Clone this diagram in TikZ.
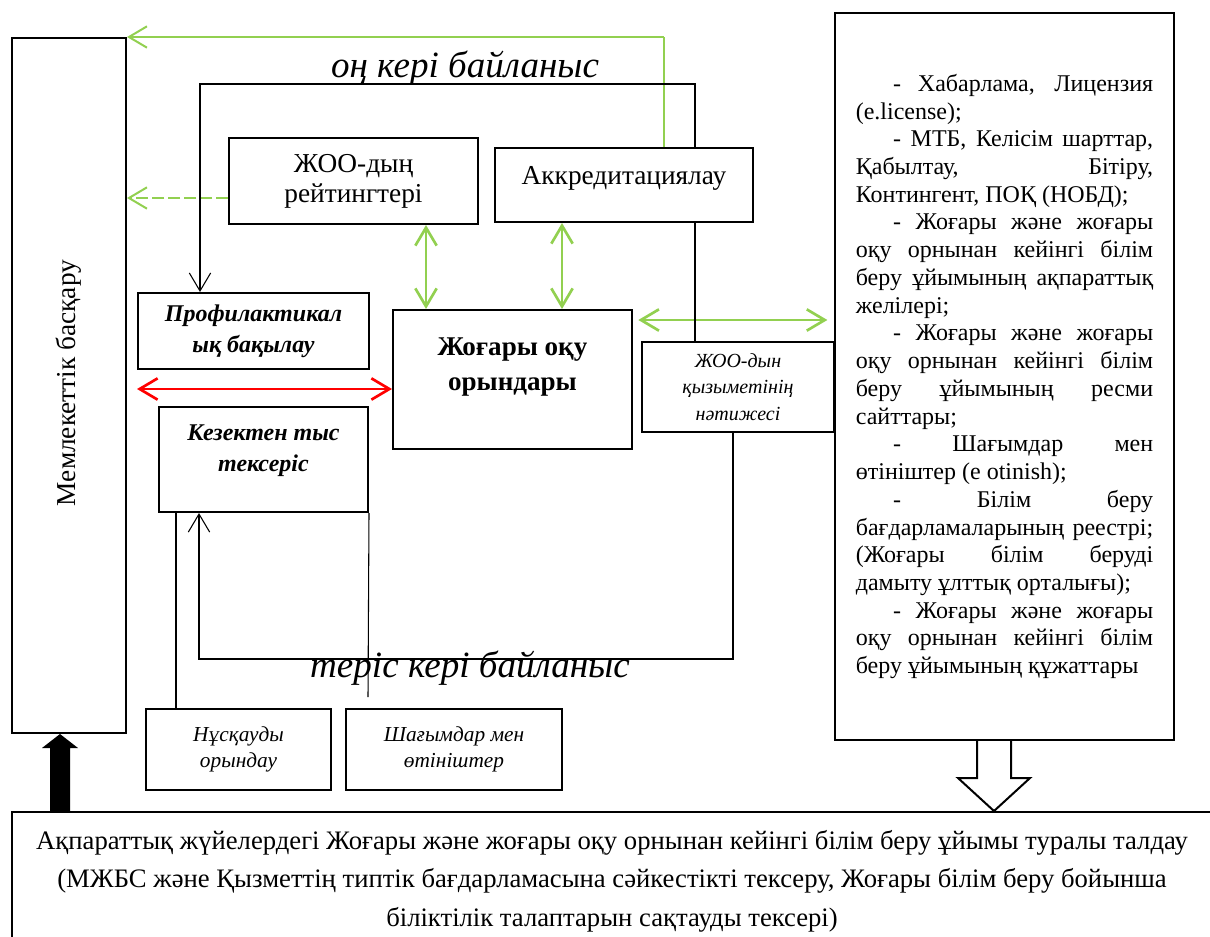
\documentclass[tikz,border=0pt]{standalone}
\usepackage{fontspec}
\setmainfont{Liberation Serif}
\usetikzlibrary{arrows.meta}
\definecolor{fbgreen}{RGB}{146,208,80}
\newcommand{\boxfont}{\fontsize{20.5}{22.5}\selectfont}
\newcommand{\profont}{\fontsize{18}{23.5}\selectfont\bfseries\itshape}
\newcommand{\unifont}{\fontsize{20.3}{26.25}\selectfont\bfseries}
\newcommand{\smallital}{\fontsize{15}{20}\selectfont\itshape}
\newcommand{\boxital}{\fontsize{16}{20}\selectfont\itshape}
\newcommand{\loopfont}{\fontsize{27.8}{30}\selectfont\itshape}
\newcommand{\listfont}{\fontsize{18}{20.8}\selectfont}
\newcommand{\analfont}{\fontsize{20}{29}\selectfont}
\newcommand{\ind}{\hspace*{28pt}}

\tikzset{
  box/.style={draw, line width=1.5pt, fill=white, align=center, inner sep=0pt},
  boxtext/.style={align=center, inner sep=0pt},
  thinline/.style={line width=0.8pt},
  barb/.style={-{Straight Barb[length=13.5pt,width=16pt]}},
  twobarb/.style={{Straight Barb[length=13.5pt,width=16pt]}-{Straight Barb[length=13.5pt,width=16pt]}},
  greenboth/.style={twobarb, fbgreen, line width=2pt},
  redboth/.style={twobarb, red, line width=2pt},
  greenline/.style={barb, fbgreen, line width=1.5pt},
  greendash/.style={greenline, dash pattern=on 9pt off 3pt},
  hollow/.style={line width=1.5pt, fill=white, line join=miter}
}

\begin{document}
\begin{tikzpicture}[x=0.75pt,y=-0.75pt]
\useasboundingbox (0,0) rectangle (1210,936);
\clip (0,0) rectangle (1210,936);

% boxes
\node[box, minimum width=85.5pt, minimum height=521.25pt] (gov) at (69,385.5) {};
\node[rotate=90, font=\boxfont, inner sep=0pt] (govtext) at (69,383) {Мемлекеттік басқару};
\node[box, minimum width=186.75pt, minimum height=64.5pt, font=\boxfont] (rating) at (353.5,181) {ЖОО-дың\\рейтингтері};
\node[box, minimum width=193.5pt, minimum height=55.5pt] (accr) at (624,185) {};
\node[boxtext, font=\boxfont] (accrtext) at (624,178) {Аккредитациялау};
\node[box, minimum width=173.25pt, minimum height=57pt, font=\profont] (prof) at (253.5,331) {Профилактикал\\ық бақылау};
\node[box, minimum width=179.25pt, minimum height=104.25pt] (high) at (512.5,379.5) {};
\node[boxtext, font=\unifont] (hightext) at (512.5,367) {Жоғары оқу\\орындары};
\node[box, minimum width=156.75pt, minimum height=78.75pt] (kez) at (263.5,459.5) {};
\node[boxtext, font=\profont] (keztext) at (263.5,451) {Кезектен тыс\\тексеріс};
\node[box, minimum width=144pt, minimum height=67.5pt, font=\smallital] (res) at (738,387) {ЖОО-дын\\қызыметінің\\нәтижесі};
\node[box, minimum width=138.75pt, minimum height=60.75pt, font=\boxital] (nusk) at (238.5,749.5) {Нұсқауды\\орындау};
\node[box, minimum width=162pt, minimum height=60.75pt, font=\boxital] (shag) at (454,749.5) {Шағымдар мен\\өтініштер};
\node[box, minimum width=900pt, minimum height=103.5pt, font=\analfont] (anal) at (612,881)
  {Ақпараттық жүйелердегі Жоғары және жоғары оқу орнынан кейінгі білім беру ұйымы туралы талдау\\
   (МЖБС және Қызметтің типтік бағдарламасына сәйкестікті тексеру, Жоғары білім беру бойынша\\
   біліктілік талаптарын сақтауды тексері)};
\node[box, text width=223pt, align=justify, minimum height=545.25pt, inner xsep=15.6pt, font=\listfont] (info) at (1004.5,376.5)
  {\parindent=0pt\tolerance=10000\hbadness=10000\hyphenpenalty=10000\exhyphenpenalty=10000
   \ind- Хабарлама, Лицензия\linebreak (e.license);\par
   \ind- МТБ, Келісім шарттар,\linebreak Қабылтау, Бітіру,\linebreak Контингент, ПОҚ (НОБД);\par
   \ind- Жоғары және жоғары\linebreak оқу орнынан кейінгі білім\linebreak беру ұйымының ақпараттық\linebreak желілері;\par
   \ind- Жоғары және жоғары\linebreak оқу орнынан кейінгі білім\linebreak беру ұйымының ресми\linebreak сайттары;\par
   \ind- Шағымдар мен\linebreak өтініштер (e otinish);\par
   \ind- Білім беру\linebreak бағдарламаларының реестрі;\linebreak (Жоғары білім беруді\linebreak дамыту ұлттық орталығы);\par
   \ind- Жоғары және жоғары\linebreak оқу орнынан кейінгі білім\linebreak беру ұйымының құжаттары};

\node[font=\loopfont, anchor=base, inner sep=0pt] (poslabel) at (465,77) {оң кері байланыс};
\node[font=\loopfont, anchor=base, inner sep=0pt] (neglabel) at (470,677) {теріс кері байланыс};

% connectors
\coordinate (gturn) at (664,0 |- gov.north);
\draw[fbgreen, thinline] (gturn |- accr.north) -- (gturn);
\draw[greenline] (gturn) -- (gov.north east);
\coordinate (rdash) at ([yshift=-12.75pt]rating.west);
\draw[greendash] (rdash) -- (rdash -| gov.east);
\draw[greenboth] (426,0 |- rating.south) -- (426,0 |- high.north);
\draw[greenboth] (562,0 |- accr.south) -- (562,0 |- high.north);
\draw[greenboth, shorten <=4pt, shorten >=5pt] (high.east |- 0,320) -- (info.west |- 0,320);
\draw[redboth] (prof.west |- 0,389) -- (high.west |- 0,389);

\draw[thinline] (695,0 |- res.north) -- (695,0 |- accr.south);
\draw[thinline, barb] (695,0 |- accr.north) -- (695,84) -| (200,0 |- prof.north);
\draw[thinline, barb] (733,0 |- res.south) |- (199,659) -- (199,0 |- kez.south);
\draw[thinline] (176,0 |- kez.south) -- (176,0 |- nusk.north);
\coordinate (shagend) at (368,697);
\draw[thinline] (kez.south east) -- (shagend);

\fill (50,0 |- anal.north) -- (50,748) -- (42,748) -- (60,0 |- gov.south)
  -- (78,748) -- (70,748) -- (70,0 |- anal.north) -- cycle;
\draw[hollow] (977,0 |- info.south) -- (977,778) -- (958,778) -- (994,0 |- anal.north)
  -- (1030,778) -- (1011,778) -- (1011,0 |- info.south);
\end{tikzpicture}
\end{document}
